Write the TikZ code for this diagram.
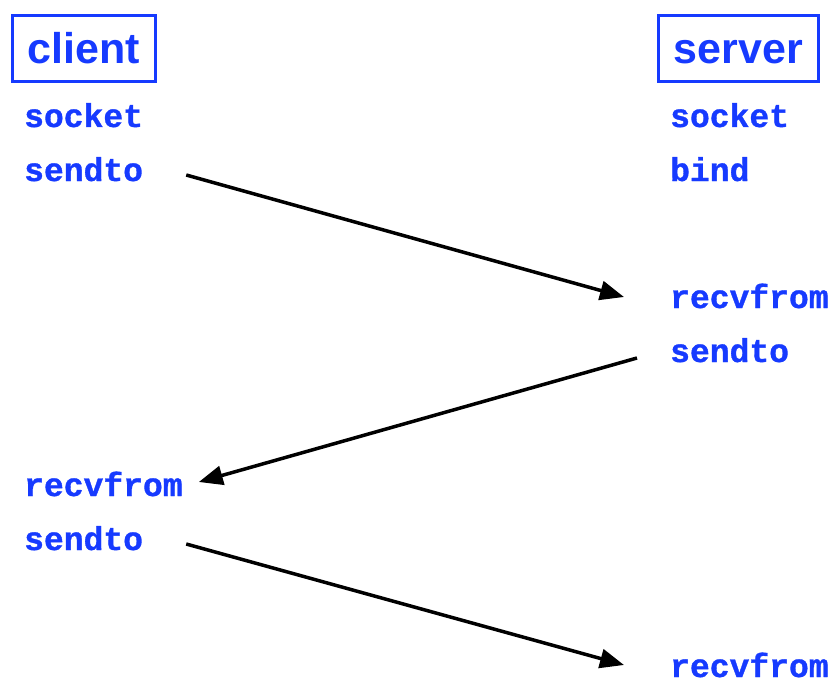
\documentclass[tikz,border=0pt]{standalone}
\usepackage{xcolor}
\usepackage{fontspec}
\setmainfont{Liberation Sans}
\newfontfamily\callfont{Liberation Mono}[UprightFont={* Bold},FakeBold=1]
\usetikzlibrary{arrows.meta,positioning}

\definecolor{sockblue}{RGB}{22,58,255}

\tikzset{
  host/.style={draw=sockblue,line width=3bp,text=sockblue,inner xsep=15bp,
               minimum height=66bp,text height=29bp,text depth=0pt,
               font=\fontsize{43bp}{43bp}\selectfont\bfseries},
  call/.style={anchor=base west,inner sep=0pt,text=sockblue,
               font=\callfont\fontsize{33bp}{33bp}\selectfont},
  msg/.style={line width=3.5bp,-{Triangle[length=24bp,width=19bp]}}
}

\begin{document}
\begin{tikzpicture}[x=1bp,y=-1bp]
\useasboundingbox (0,0) rectangle (830,678);

\node[host] (client) at (84,49) {client};
\node[host] (server) at (738.5,49) {server};

% client side calls
\node[call] (c1) at (24,127) {socket};
\node[call] (c2) at (24,181) {sendto};
\node[call] (c3) at (24,496) {recvfrom};
\node[call] (c4) at (24,550) {sendto};

% server side calls
\node[call] (s1) at (670,127) {socket};
\node[call] (s2) at (670,181) {bind};
\node[call] (s3) at (670,308) {recvfrom};
\node[call] (s4) at (670,362) {sendto};
\node[call] (s5) at (670,677) {recvfrom};

\draw[msg] ([xshift=43bp,yshift=6bp]c2.base east) -- ([xshift=-46bp,yshift=11bp]s3.base west);
\draw[msg] ([xshift=-33bp,yshift=4bp]s4.base west) -- ([xshift=16bp,yshift=14bp]c3.base east);
\draw[msg] ([xshift=43bp,yshift=6bp]c4.base east) -- ([xshift=-46bp,yshift=12bp]s5.base west);
\end{tikzpicture}
\end{document}
